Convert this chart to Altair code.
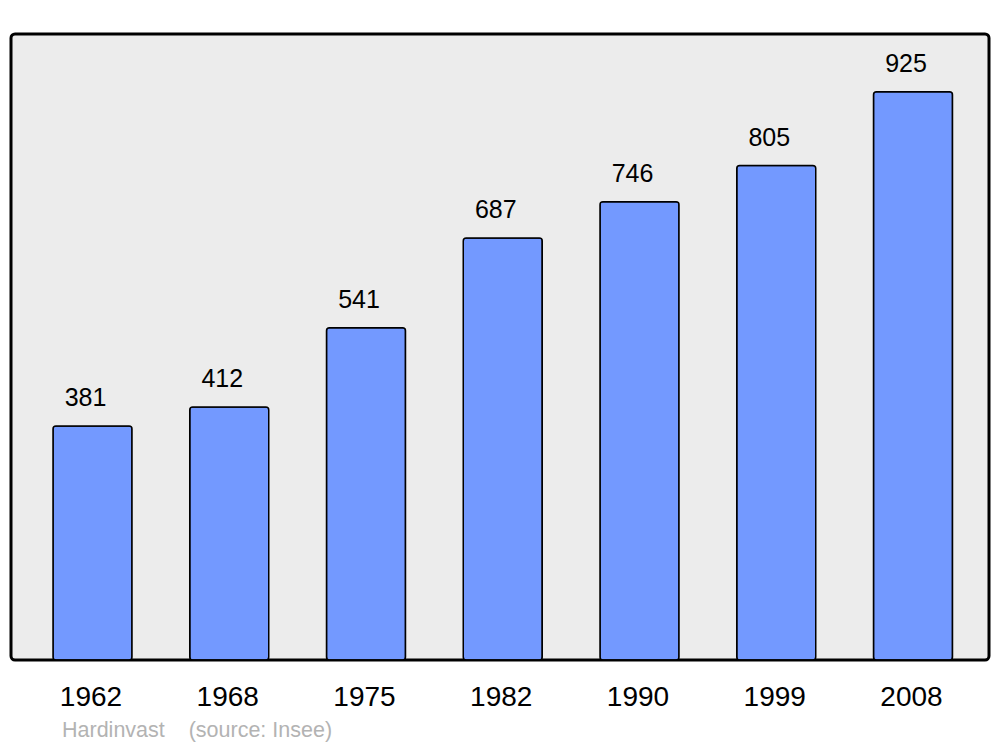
import altair as alt
import pandas as pd

years = ["1962", "1968", "1975", "1982", "1990", "1999", "2008"]
population = [381, 412, 541, 687, 746, 805, 925]
footer_text = ["Hardinvast\u00a0\u00a0\u00a0\u00a0(source: Insee)"]

df = pd.DataFrame({"year": years, "pop": population})
foot = pd.DataFrame({"t": footer_text})

FONT = "Liberation Sans"

x = alt.X("year:N", sort=years, title=None,
          scale=alt.Scale(range=[42, 941.5], paddingInner=0.4223, paddingOuter=0),
          axis=alt.Axis(labelAngle=0, labelFontSize=28, labelFont=FONT, labelColor="black",
                        domain=False, ticks=False, labelPadding=23, grid=False,
                        labelOffset=-1.5))
y = alt.Y("pop:Q", title=None, axis=None, scale=alt.Scale(domain=[0, 1019], nice=False, zero=True))

bars = alt.Chart(df).mark_bar(color="#7399ff", stroke="black", strokeWidth=1.5,
                              cornerRadius=3).encode(x=x, y=y)
labels = alt.Chart(df).mark_text(fontSize=25, font=FONT, color="black", dy=-19.5, dx=-7,
                                 baseline="alphabetic", align="center").encode(
    x=x, y=y, text="pop:Q")
footer = alt.Chart(foot).mark_text(fontSize=21.5, font=FONT, color="#b3b3b3", align="left",
                                   baseline="alphabetic").encode(
    x=alt.value(51), y=alt.value(703), text="t:N")

chart = alt.layer(bars, labels, footer).properties(
    width=978, height=626,
    autosize=alt.AutoSizeParams(type="none"),
    padding={"left": 3, "top": 26, "right": 3, "bottom": 86},
    background="white",
).configure_view(stroke="black", strokeWidth=3, fill="#ececec", cornerRadius=4)

chart.save("out.html", embed_options={"renderer": "svg", "actions": False})
